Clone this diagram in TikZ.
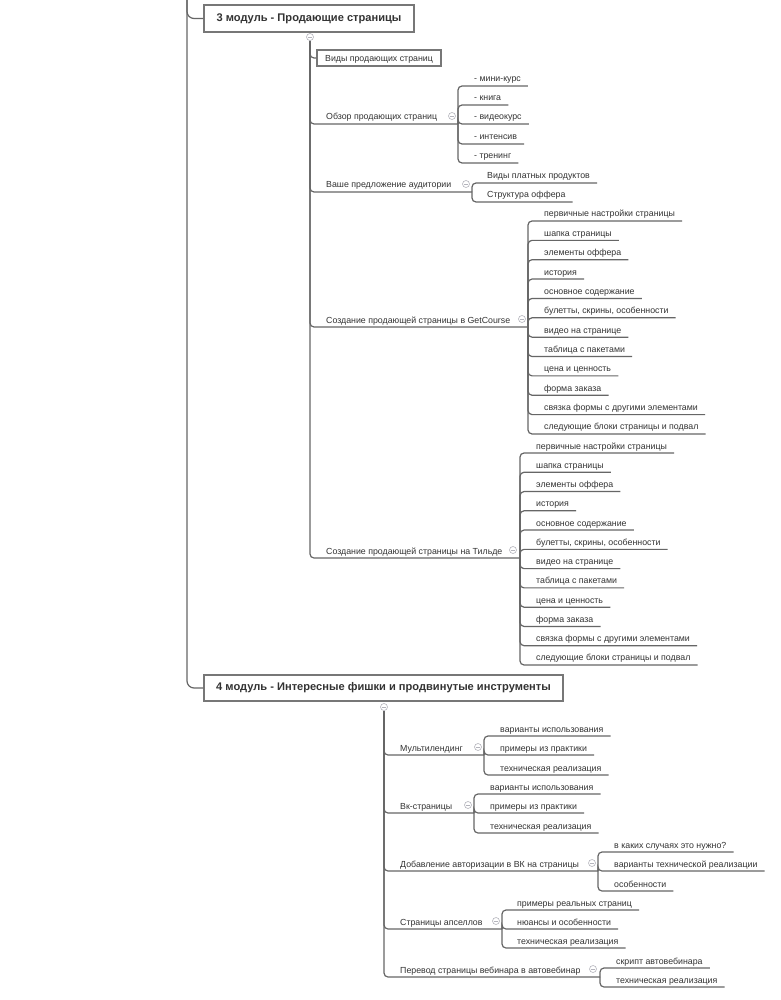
\documentclass[tikz,border=0pt]{standalone}
\usepackage{fontspec}
\setmainfont{Liberation Sans}
\usetikzlibrary{calc}
\definecolor{ln}{HTML}{666666}
\definecolor{txt}{HTML}{333333}
\definecolor{bx}{HTML}{777777}
\definecolor{cc}{HTML}{B4B4BC}
\tikzset{
 conn/.style={draw=ln, line width=1.2pt, rounded corners=4pt},
 leaf/.style={anchor=base west, inner sep=0pt, text=txt, font=\fontsize{8.8}{10}\selectfont},
 topic/.style={draw=bx, line width=1.3pt, text=txt, font=\bfseries\fontsize{11.1}{12}\selectfont, inner sep=0pt},
 subbox/.style={draw=bx, line width=1.1pt, text=txt, font=\fontsize{8.8}{10}\selectfont, inner sep=0pt},
 fold/.style={circle, draw=cc, line width=0.6pt, fill=white, minimum size=7pt, inner sep=0pt,
   path picture={\draw[cc, line width=0.6pt] ([xshift=-2pt]path picture bounding box.center) -- ([xshift=2pt]path picture bounding box.center);}}
}
\newcommand\leafnode[5]{%
  \node[leaf] (#1) at (#3,#4-4) {#5};
  \draw[conn] (#2) |- ($(#1.base east)+(7,4)$);}
\begin{document}
\begin{tikzpicture}[x=1pt,y=-1pt]
\useasboundingbox (0,0) rectangle (780,1000);
\fill[white] (0,0) rectangle (780,1000);
% ---------- modules ----------
\coordinate (top) at (187,-6);
\node[topic, minimum width=210pt, minimum height=27pt] (m3) at (309,18.5) {3 модуль - Продающие страницы};
\node[topic, minimum width=359pt, minimum height=26pt] (m4) at (383.5,688) {4 модуль - Интересные фишки и продвинутые инструменты};
\draw[conn, rounded corners=7pt] (top) |- (m3.west);
\draw[conn, rounded corners=7pt] (top) |- (m4.west);
% ---------- module 3 ----------
\coordinate (s3) at (310,41);
\node[subbox, minimum width=124pt, minimum height=16pt, text height=7.5pt, text depth=1pt] (vidy) at (379,58) {Виды продающих страниц};
\draw[conn] (s3) |- (vidy.west);
% Обзор
\node[leaf] (obz) at (326,120) {Обзор продающих страниц};
\coordinate (jobz) at (458,124);
\draw[conn] (s3) |- (jobz);
\leafnode{ob1}{jobz}{474}{86}{- мини-курс}
\leafnode{ob2}{jobz}{474}{105}{- книга}
\leafnode{ob3}{jobz}{474}{124}{- видеокурс}
\leafnode{ob4}{jobz}{474}{144}{- интенсив}
\leafnode{ob5}{jobz}{474}{163}{- тренинг}
% Ваше предложение
\node[leaf] (vash) at (326,188) {Ваше предложение аудитории};
\coordinate (jvash) at (472,192);
\draw[conn] (s3) |- (jvash);
\leafnode{va1}{jvash}{487}{183}{Виды платных продуктов}
\leafnode{va2}{jvash}{487}{202}{Структура оффера}
% GetCourse
\node[leaf] (gc) at (326,323) {Создание продающей страницы в GetCourse};
\coordinate (jgc) at (528,327);
\draw[conn] (s3) |- (jgc);
\foreach \t [count=\i from 0] in {первичные настройки страницы, шапка страницы, элементы оффера, история, основное содержание, {булетты, скрины, особенности}, видео на странице, таблица с пакетами, цена и ценность, форма заказа, связка формы с другими элементами, следующие блоки страницы и подвал}
  {\leafnode{gc\i}{jgc}{544}{221+19.36*\i}{\t}}
% Тильда
\node[leaf] (tl) at (326,554) {Создание продающей страницы на Тильде};
\coordinate (jtl) at (520,558);
\draw[conn] (s3) |- (jtl);
\foreach \t [count=\i from 0] in {первичные настройки страницы, шапка страницы, элементы оффера, история, основное содержание, {булетты, скрины, особенности}, видео на странице, таблица с пакетами, цена и ценность, форма заказа, связка формы с другими элементами, следующие блоки страницы и подвал}
  {\leafnode{tl\i}{jtl}{536}{453+19.27*\i}{\t}}
% ---------- module 4 ----------
\coordinate (s4) at (384,711);
\node[leaf] (ml) at (400,751) {Мультилендинг};
\coordinate (jml) at (484,755);
\draw[conn] (s4) |- (jml);
\leafnode{ml1}{jml}{500}{736}{варианты использования}
\leafnode{ml2}{jml}{500}{755}{примеры из практики}
\leafnode{ml3}{jml}{500}{775}{техническая реализация}
\node[leaf] (vk) at (400,809) {Вк-страницы};
\coordinate (jvk) at (474,813);
\draw[conn] (s4) |- (jvk);
\leafnode{vk1}{jvk}{490}{794}{варианты использования}
\leafnode{vk2}{jvk}{490}{813}{примеры из практики}
\leafnode{vk3}{jvk}{490}{833}{техническая реализация}
\node[leaf] (au) at (400,867) {Добавление авторизации в ВК на страницы};
\coordinate (jau) at (598,871);
\draw[conn] (s4) |- (jau);
\leafnode{au1}{jau}{614}{852}{в каких случаях это нужно?}
\leafnode{au2}{jau}{614}{871}{варианты технической реализации}
\leafnode{au3}{jau}{614}{891}{особенности}
\node[leaf] (up) at (400,925) {Страницы апселлов};
\coordinate (jup) at (502,929);
\draw[conn] (s4) |- (jup);
\leafnode{up1}{jup}{517}{910}{примеры реальных страниц}
\leafnode{up2}{jup}{517}{929}{нюансы и особенности}
\leafnode{up3}{jup}{517}{948}{техническая реализация}
\node[leaf] (aw) at (400,973) {Перевод страницы вебинара в автовебинар};
\coordinate (jaw) at (600,977);
\draw[conn] (s4) |- (jaw);
\leafnode{aw1}{jaw}{616}{968}{скрипт автовебинара}
\leafnode{aw2}{jaw}{616}{987}{техническая реализация}
% ---------- fold markers ----------
\node[fold] (f3) at (310,37) {};
\node[fold] (fobz) at (452,116) {};
\node[fold] (fvash) at (466,184) {};
\node[fold] (fgc) at (522,319) {};
\node[fold] (ftl) at (513,550) {};
\node[fold] (f4) at (384,707) {};
\node[fold] (fml) at (478,747) {};
\node[fold] (fvk) at (468,805) {};
\node[fold] (fau) at (592,863) {};
\node[fold] (fup) at (496,921) {};
\node[fold] (faw) at (593,969) {};
\end{tikzpicture}
\end{document}
